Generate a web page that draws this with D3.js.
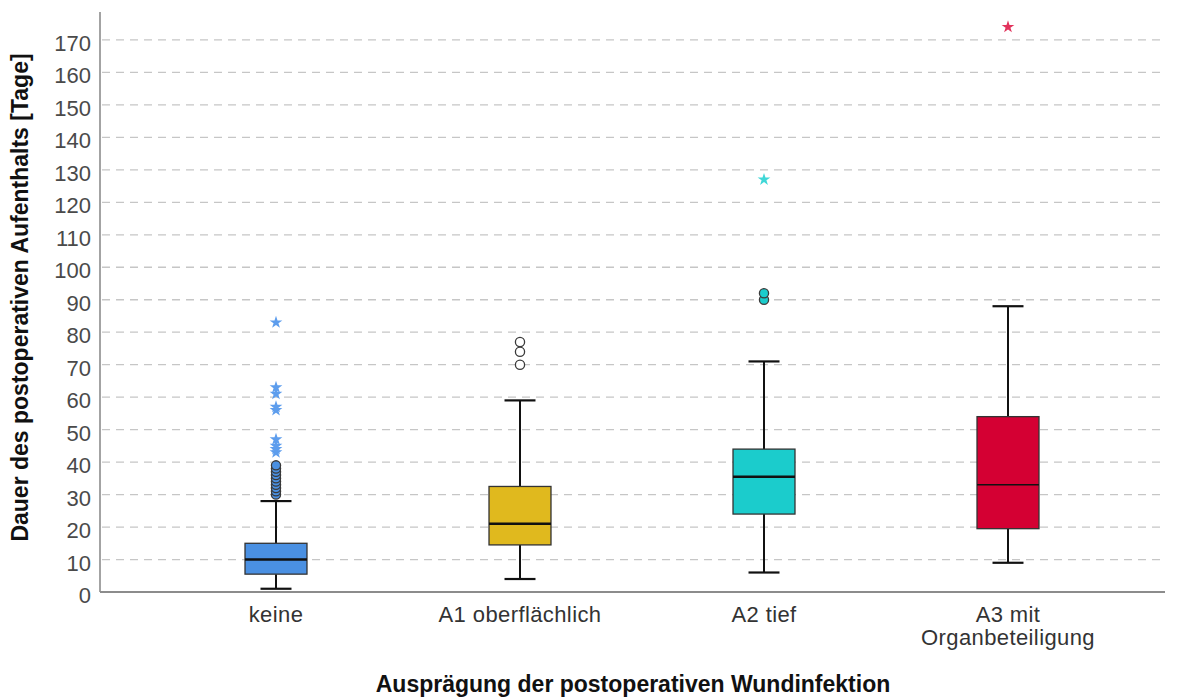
<!DOCTYPE html>
<html>
<head>
<meta charset="utf-8">
<script src="https://cdn.jsdelivr.net/npm/d3@7"></script>
<style>
  html, body { margin: 0; padding: 0; background: #fff; }
  svg { display: block; font-family: "Liberation Sans", Arial, sans-serif; }
</style>
</head>
<body>
<svg id="chart" width="1180" height="697"></svg>
<script>
// Postoperative length of stay by wound infection grade
const categories = ["keine", "A1 oberflächlich", "A2 tief", "A3 mit Organbeteiligung"];
const categoryLabelLines = [["keine"], ["A1 oberflächlich"], ["A2 tief"], ["A3 mit", "Organbeteiligung"]];
const whiskerLow  = [1, 4, 6, 9];
const quartile1   = [5.5, 14.5, 24, 19.5];
const medians     = [10, 21, 35.5, 33];
const quartile3   = [15, 32.5, 44, 54];
const whiskerHigh = [28, 59, 71, 88];
const outliers = [
  [30, 31, 32, 33, 34, 35, 36, 37, 38, 39],
  [70, 74, 77],
  [90, 92],
  []
];
const extremes = [
  [43, 44, 45, 47, 56, 57, 61, 63, 83],
  [],
  [127],
  [174]
];
const yTicks = d3.range(0, 171, 10);

const boxFill     = ["#4a90e2", "#e0b91e", "#1bcccc", "#d40033"];
const outlierFill = ["#4a90e2", "#ffffff", "#1bcccc", "#ffffff"];
const starFill    = ["#5d9ded", "#5d9ded", "#3fd7d7", "#e2335c"];

const svg = d3.select("#chart");
const plotLeft = 100, plotRight = 1165, plotBottom = 592, plotTop = 12;

const y = d3.scaleLinear().domain([0, 178.6]).range([plotBottom, plotTop]);
const x = d3.scaleBand().domain(categories).range([154, 1130]);
const cx = c => x(c) + x.bandwidth() / 2;
const boxW = x.bandwidth() * 0.254;
const capW = boxW * 0.5;

// dashed horizontal gridlines
svg.append("g").selectAll("line")
  .data(yTicks.filter(t => t > 0))
  .join("line")
  .attr("x1", plotLeft + 2).attr("x2", plotRight)
  .attr("y1", d => y(d)).attr("y2", d => y(d))
  .attr("stroke", "#c6c6c6").attr("stroke-width", 1.3)
  .attr("stroke-dasharray", "8,6");

// y axis
const yAxis = svg.append("g")
  .attr("transform", `translate(${plotLeft},0)`)
  .call(d3.axisLeft(y).tickValues(yTicks).tickSize(0).tickPadding(9));
yAxis.select(".domain").remove();
yAxis.selectAll("text")
  .attr("font-size", 22).attr("fill", "#4a4a4a").attr("dy", "0.48em")
  .attr("font-family", "Liberation Sans, Arial, sans-serif");

svg.append("line")
  .attr("x1", plotLeft).attr("x2", plotLeft).attr("y1", plotTop).attr("y2", plotBottom)
  .attr("stroke", "#8c8c8c").attr("stroke-width", 1.6);

// x axis line
svg.append("line")
  .attr("x1", plotLeft).attr("x2", plotRight).attr("y1", plotBottom).attr("y2", plotBottom)
  .attr("stroke", "#8c8c8c").attr("stroke-width", 1.8);

// category labels
categories.forEach((c, i) => {
  const t = svg.append("text")
    .attr("x", cx(c)).attr("y", 622)
    .attr("text-anchor", "middle")
    .attr("font-size", 22).attr("letter-spacing", 0.4).attr("fill", "#333");
  categoryLabelLines[i].forEach((line, j) => {
    t.append("tspan").attr("x", cx(c)).attr("dy", j === 0 ? 0 : 23).text(line);
  });
});

// boxes
const g = svg.append("g");
categories.forEach((c, i) => {
  const xc = cx(c);
  // whiskers
  g.append("line")
    .attr("x1", xc).attr("x2", xc)
    .attr("y1", y(whiskerLow[i])).attr("y2", y(quartile1[i]))
    .attr("stroke", "#111").attr("stroke-width", 2);
  g.append("line")
    .attr("x1", xc).attr("x2", xc)
    .attr("y1", y(quartile3[i])).attr("y2", y(whiskerHigh[i]))
    .attr("stroke", "#111").attr("stroke-width", 2);
  [whiskerLow[i], whiskerHigh[i]].forEach(v => {
    g.append("line")
      .attr("x1", xc - capW / 2).attr("x2", xc + capW / 2)
      .attr("y1", y(v)).attr("y2", y(v))
      .attr("stroke", "#111").attr("stroke-width", 2.2);
  });
  // box
  g.append("rect")
    .attr("x", xc - boxW / 2).attr("width", boxW)
    .attr("y", y(quartile3[i])).attr("height", y(quartile1[i]) - y(quartile3[i]))
    .attr("fill", boxFill[i]).attr("stroke", "#333").attr("stroke-width", 1.3);
  // median
  g.append("line")
    .attr("x1", xc - boxW / 2).attr("x2", xc + boxW / 2)
    .attr("y1", y(medians[i])).attr("y2", y(medians[i]))
    .attr("stroke", "#111").attr("stroke-width", i === 3 ? 1.5 : 2.6);
  // mild outliers
  g.append("g").selectAll("circle")
    .data(outliers[i]).join("circle")
    .attr("cx", xc).attr("cy", d => y(d)).attr("r", 4.6)
    .attr("fill", outlierFill[i]).attr("stroke", "#3a3a3a").attr("stroke-width", 1.3);
  // extreme values
  g.append("g").selectAll("path")
    .data(extremes[i]).join("path")
    .attr("transform", d => `translate(${xc},${y(d)})`)
    .attr("d", d3.symbol(d3.symbolStar, 50)())
    .attr("fill", starFill[i]);
});

// axis titles
svg.append("text")
  .attr("transform", `translate(28,297.5) rotate(-90)`)
  .attr("text-anchor", "middle")
  .attr("font-size", 23).attr("font-weight", "bold").attr("fill", "#111")
  .text("Dauer des postoperativen Aufenthalts [Tage]");

svg.append("text")
  .attr("x", 633).attr("y", 692)
  .attr("text-anchor", "middle")
  .attr("font-size", 23).attr("font-weight", "bold").attr("fill", "#111")
  .text("Ausprägung der postoperativen Wundinfektion");
</script>
</body>
</html>
